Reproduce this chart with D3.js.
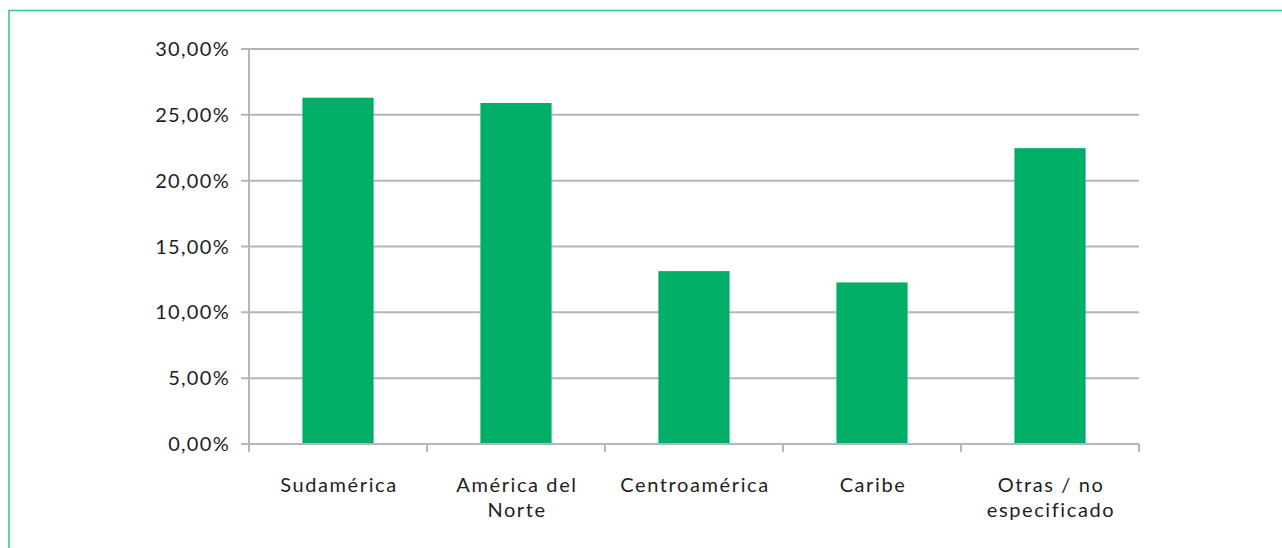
<!DOCTYPE html>
<html><head><meta charset="utf-8">
<script src="https://cdn.jsdelivr.net/npm/d3@7"></script>
<style>body{margin:0;background:#fff;}svg{display:block;}</style>
</head><body>
<script>
const categories = [["Sudamérica"], ["América del", "Norte"], ["Centroamérica"], ["Caribe"], ["Otras / no", "especificado"]];
const values = [26.3, 25.9, 13.13, 12.27, 22.47];
const yTicks = [0, 5, 10, 15, 20, 25, 30];

const W = 1282, H = 548;
const svg = d3.select("body").append("svg").attr("width", W).attr("height", H);
svg.append("rect").attr("x", 9).attr("y", 10.5).attr("width", W + 20).attr("height", H + 20)
  .attr("fill", "none").attr("stroke", "#3cc88c").attr("stroke-width", 1.6);

const x0 = 249, x1 = 1139, yTop = 49, yBot = 444;
const x = d3.scaleBand().domain(d3.range(categories.length)).range([x0, x1]).paddingInner(0.6).paddingOuter(0.3);
const xb = d3.scaleBand().domain(d3.range(categories.length)).range([x0, x1]);
const y = d3.scaleLinear().domain([0, 30]).range([yBot, yTop]);
const grid = "#b3b5b8";
const font = "Lato, 'Open Sans', sans-serif";

// gridlines
svg.append("g").selectAll("line").data(yTicks).join("line")
  .attr("x1", x0 - 8).attr("x2", x1).attr("y1", d => y(d)).attr("y2", d => y(d))
  .attr("stroke", grid).attr("stroke-width", 2);

// bars
svg.append("g").selectAll("rect").data(values).join("rect")
  .attr("x", (d, i) => x(i)).attr("width", x.bandwidth())
  .attr("y", d => y(d)).attr("height", d => y(0) - y(d))
  .attr("fill", "#00ae68");

// y axis line
svg.append("line").attr("x1", x0).attr("x2", x0).attr("y1", yTop).attr("y2", yBot + 8)
  .attr("stroke", grid).attr("stroke-width", 2);
// x axis line + ticks
svg.append("line").attr("x1", x0 - 8).attr("x2", x1).attr("y1", yBot).attr("y2", yBot)
  .attr("stroke", grid).attr("stroke-width", 2);
const bounds = d3.range(categories.length + 1).map(i => i < categories.length ? xb(i) : x1);
svg.append("g").selectAll("line").data(bounds).join("line")
  .attr("x1", d => d).attr("x2", d => d).attr("y1", yBot).attr("y2", yBot + 8)
  .attr("stroke", grid).attr("stroke-width", 2);

// y labels
svg.append("g").selectAll("text").data(yTicks).join("text")
  .attr("x", 230).attr("y", d => y(d)).attr("dy", "0.35em")
  .attr("text-anchor", "end").attr("font-family", font).attr("font-size", 20)
  .attr("letter-spacing", 1.3)
  .attr("fill", "#1e1e1e").text(d => d3.format(".2f")(d).replace(".", ",") + "%");

// x labels
const xl = svg.append("g").selectAll("text").data(categories).join("text")
  .attr("text-anchor", "middle").attr("font-family", font).attr("font-size", 20)
  .attr("letter-spacing", 1.6)
  .attr("fill", "#1e1e1e")
  .attr("transform", (d, i) => `translate(${xb(i) + xb.bandwidth() / 2 + 1},492)`);
xl.selectAll("tspan").data(d => d).join("tspan")
  .attr("x", 0).attr("dy", (d, j) => j === 0 ? 0 : 25).text(d => d);
</script>
</body></html>
